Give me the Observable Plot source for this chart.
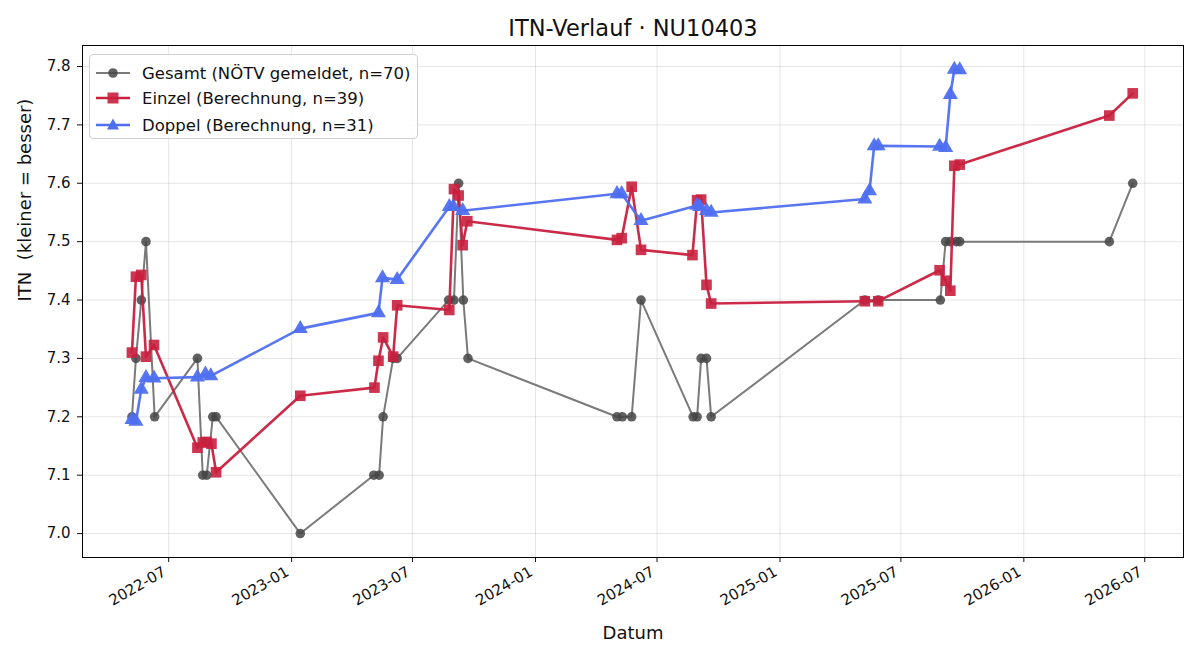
<!DOCTYPE html>
<html>
<head>
<meta charset="utf-8">
<script src="https://cdn.jsdelivr.net/npm/d3@7"></script>
<script src="https://cdn.jsdelivr.net/npm/@observablehq/plot@0.6"></script>
<style>
  body { margin: 0; background: white; font-family: "DejaVu Sans", sans-serif; }
  #wrap { position: relative; width: 1200px; height: 660px; }
  #wrap svg text { font-family: "DejaVu Sans", sans-serif; }
  #legend { position: absolute; left: 89px; top: 54px; width: 329px; height: 85px;
    border: 1px solid #d0d0d0; border-radius: 4px; background: rgba(255,255,255,0.85);
    box-sizing: border-box; font-size: 16.5px; color: #111; }
  .row { position: absolute; left: 0; height: 24px; display: flex; align-items: center; white-space: nowrap; }
  .row svg { margin-left: 6px; margin-right: 12px; }
</style>
</head>
<body>
<div id="wrap"><div id="legend"></div></div>
<script>
const gesamtDates = ["2022-05-07","2022-05-13","2022-05-21","2022-05-28","2022-06-10","2022-08-13","2022-08-21","2022-08-27","2022-09-05","2022-09-10",
  "2023-01-14","2023-05-04","2023-05-12","2023-05-18","2023-06-02","2023-06-08","2023-08-24","2023-09-01","2023-09-08","2023-09-15","2023-09-22",
  "2024-05-02","2024-05-10","2024-05-24","2024-06-07","2024-08-24","2024-08-30","2024-09-05","2024-09-13","2024-09-20",
  "2025-05-08","2025-05-28","2025-08-29","2025-09-06","2025-09-13","2025-09-22","2025-09-27","2026-05-09","2026-06-13"];
const gesamtValues = [7.2,7.3,7.4,7.5,7.2,7.3,7.1,7.1,7.2,7.2,
  7.0,7.1,7.1,7.2,7.3,7.3,7.4,7.4,7.6,7.4,7.3,
  7.2,7.2,7.2,7.4,7.2,7.2,7.3,7.3,7.2,
  7.4,7.4,7.4,7.5,7.5,7.5,7.5,7.5,7.6];

const einzelDates = ["2022-05-07","2022-05-13","2022-05-21","2022-05-28","2022-06-09","2022-08-13","2022-08-21","2022-08-27","2022-09-03","2022-09-10",
  "2023-01-14","2023-05-05","2023-05-11","2023-05-18","2023-06-02","2023-06-08","2023-08-25","2023-09-01","2023-09-08","2023-09-14","2023-09-21",
  "2024-05-02","2024-05-09","2024-05-24","2024-06-07","2024-08-23","2024-08-30","2024-09-05","2024-09-13","2024-09-20",
  "2025-05-08","2025-05-28","2025-08-28","2025-09-06","2025-09-13","2025-09-19","2025-09-27","2026-05-09","2026-06-13"];
const einzelValues = [7.310,7.440,7.443,7.303,7.323,7.147,7.156,7.157,7.154,7.105,
  7.236,7.250,7.296,7.336,7.303,7.391,7.383,7.590,7.579,7.494,7.535,
  7.503,7.506,7.594,7.486,7.477,7.571,7.572,7.426,7.394,
  7.398,7.398,7.451,7.433,7.416,7.630,7.632,7.716,7.754];

const doppelDates = ["2022-05-07","2022-05-13","2022-05-21","2022-05-28","2022-06-09","2022-08-13","2022-08-25","2022-09-02",
  "2023-01-14","2023-05-11","2023-05-17","2023-06-08","2023-08-25","2023-08-31","2023-09-14",
  "2024-05-02","2024-05-09","2024-06-07","2024-08-30","2024-09-03","2024-09-13","2024-09-20",
  "2025-05-08","2025-05-15","2025-05-22","2025-05-28","2025-08-28","2025-09-06","2025-09-13","2025-09-19","2025-09-27"];
const doppelValues = [7.195,7.192,7.247,7.267,7.266,7.268,7.273,7.270,
  7.351,7.378,7.438,7.435,7.560,7.560,7.553,
  7.582,7.582,7.536,7.562,7.560,7.553,7.550,
  7.573,7.587,7.664,7.664,7.663,7.661,7.752,7.795,7.794];

const xTickLabels = ["2022-07","2023-01","2023-07","2024-01","2024-07","2025-01","2025-07","2026-01","2026-07"];
const yTickValues = [7.0,7.1,7.2,7.3,7.4,7.5,7.6,7.7,7.8];

const titleText = "ITN-Verlauf · NU10403";
const xLabel = "Datum";
const yLabel = "ITN  (kleiner = besser)";
const legendLabels = ["Gesamt (NÖTV gemeldet, n=70)", "Einzel (Berechnung, n=39)", "Doppel (Berechnung, n=31)"];

const toRows = (ds, vs) => ds.map((d, i) => ({date: new Date(d), value: vs[i]}));
const gesamt = toRows(gesamtDates, gesamtValues);
const einzel = toRows(einzelDates, einzelValues);
const doppel = toRows(doppelDates, doppelValues);
const xTicks = xTickLabels.map(s => new Date(s + "-01"));

const GREY_LINE = "#7a7a7a", GREY_DOT = "#454545";
const RED = "#c8203e", BLUE = "#4f6ff0";

const chart = Plot.plot({
  width: 1200, height: 660,
  marginLeft: 82, marginRight: 17, marginTop: 45, marginBottom: 103,
  style: {fontFamily: "DejaVu Sans", fontSize: "15px", background: "white", color: "#111"},
  x: {type: "utc", domain: [new Date("2022-02-22"), new Date("2026-08-28")]},
  y: {domain: [6.959, 7.836]},
  marks: [
    Plot.gridX(xTicks, {stroke: "#000", strokeOpacity: 0.1}),
    Plot.gridY(yTickValues, {stroke: "#000", strokeOpacity: 0.1}),
    Plot.axisX(xTicks, {tickFormat: () => "", tickSize: 5, label: null}),
    Plot.axisX(xTicks, {tickFormat: d3.utcFormat("%Y-%m"), tickRotate: -30, tickSize: 0, tickPadding: 8, label: null, fontSize: 15, dx: -4, dy: 5}),
    Plot.axisY(yTickValues, {tickFormat: d3.format(".1f"), tickSize: 5, tickPadding: 7, label: null, fontSize: 15}),
    Plot.line(gesamt, {x: "date", y: "value", stroke: GREY_LINE, strokeWidth: 2}),
    Plot.dot(gesamt, {x: "date", y: "value", r: 4.8, fill: GREY_DOT, fillOpacity: 0.85}),
    Plot.line(einzel, {x: "date", y: "value", stroke: RED, strokeWidth: 2.6, strokeOpacity: 0.95}),
    Plot.dot(einzel, {x: "date", y: "value", symbol: "square", r: 6, fill: RED, fillOpacity: 0.9}),
    Plot.line(doppel, {x: "date", y: "value", stroke: BLUE, strokeWidth: 2.6, strokeOpacity: 0.95}),
    Plot.dot(doppel, {x: "date", y: "value", symbol: "triangle", r: 5.6, fill: BLUE, fillOpacity: 0.95}),
    Plot.frame({stroke: "#000", strokeWidth: 1}),
    Plot.text([titleText], {frameAnchor: "top", lineAnchor: "middle", dy: -17, fontSize: 22.5, fill: "#111"}),
    Plot.text([xLabel], {frameAnchor: "bottom", lineAnchor: "middle", dy: 76, fontSize: 18, fill: "#111"}),
    Plot.text([yLabel], {frameAnchor: "left", lineAnchor: "middle", dx: -57, rotate: -90, fontSize: 18, fill: "#111"})
  ]
});
document.getElementById("wrap").prepend(chart);

const legend = document.getElementById("legend");
const specs = [
  {stroke: GREY_LINE, fill: GREY_DOT, shape: "circle"},
  {stroke: RED, fill: RED, shape: "square"},
  {stroke: BLUE, fill: BLUE, shape: "triangle"}
];
const rowTops = [6, 31, 58];
legendLabels.forEach((lab, i) => {
  const s = specs[i];
  const row = document.createElement("div");
  row.className = "row";
  row.style.top = rowTops[i] + "px";
  let marker;
  if (s.shape === "circle") marker = `<circle cx="17" cy="12" r="4.8" fill="${s.fill}" fill-opacity="0.85"/>`;
  else if (s.shape === "square") marker = `<rect x="11.5" y="6.5" width="11" height="11" fill="${s.fill}" fill-opacity="0.9"/>`;
  else marker = `<path d="M17,5.5 L23,16.5 L11,16.5 Z" fill="${s.fill}"/>`;
  row.innerHTML = `<svg width="34" height="24"><line x1="0" y1="12" x2="34" y2="12" stroke="${s.stroke}" stroke-width="${i === 0 ? 2 : 2.6}"/>${marker}</svg><span>${lab}</span>`;
  legend.appendChild(row);
});
</script>
</body>
</html>
